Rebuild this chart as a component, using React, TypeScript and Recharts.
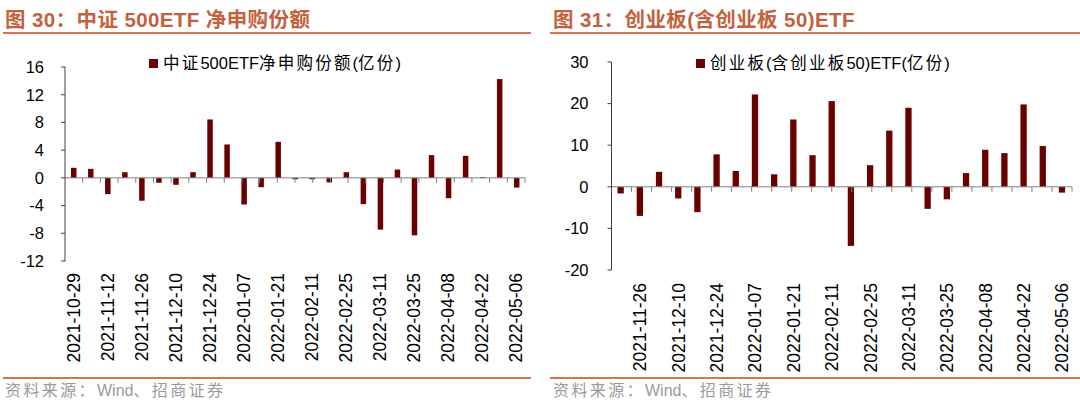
import React from "react";
import { BarChart, Bar, XAxis, YAxis, ReferenceLine, Legend } from "recharts";

const BAR_COLOR = "#6B0000";
const TITLE_COLOR = "#C4613D";
const RULE_COLOR = "#D27552";
const FONT = "'Liberation Sans', 'Noto Sans CJK SC', sans-serif";

// 图 30: 中证500ETF 净申购份额 (亿份), weekly
const csiDates = [
  "2021-10-29", "2021-11-05", "2021-11-12", "2021-11-19", "2021-11-26", "2021-12-03",
  "2021-12-10", "2021-12-17", "2021-12-24", "2021-12-31", "2022-01-07", "2022-01-14",
  "2022-01-21", "2022-01-28", "2022-02-11", "2022-02-18", "2022-02-25", "2022-03-04",
  "2022-03-11", "2022-03-18", "2022-03-25", "2022-04-01", "2022-04-08", "2022-04-15",
  "2022-04-22", "2022-04-29", "2022-05-06",
];
const csiValues = [
  1.45, 1.3, -2.35, 0.82, -3.3, -0.7, -1.0, 0.82, 8.43, 4.82, -3.85, -1.35, 5.2, -0.2,
  -0.2, -0.65, 0.82, -3.8, -7.47, 1.2, -8.3, 3.28, -2.94, 3.18, 0.1, 14.26, -1.4,
];
const csiLabels = [
  "2021-10-29", "2021-11-12", "2021-11-26", "2021-12-10", "2021-12-24", "2022-01-07",
  "2022-01-21", "2022-02-11", "2022-02-25", "2022-03-11", "2022-03-25", "2022-04-08",
  "2022-04-22", "2022-05-06",
];
const csiTicks = [-12, -8, -4, 0, 4, 8, 12, 16];

// 图 31: 创业板(含创业板50)ETF (亿份), weekly
const gemDates = [
  "2021-11-19", "2021-11-26", "2021-12-03", "2021-12-10", "2021-12-17", "2021-12-24",
  "2021-12-31", "2022-01-07", "2022-01-14", "2022-01-21", "2022-01-28", "2022-02-11",
  "2022-02-18", "2022-02-25", "2022-03-04", "2022-03-11", "2022-03-18", "2022-03-25",
  "2022-04-01", "2022-04-08", "2022-04-15", "2022-04-22", "2022-04-29", "2022-05-06",
];
const gemValues = [
  -1.6, -7.0, 3.6, -2.8, -6.1, 7.8, 3.8, 22.2, 3.0, 16.2, 7.6, 20.6, -14.2, 5.2, 13.5,
  19.0, -5.3, -3.0, 3.3, 8.9, 8.1, 19.8, 9.8, -1.4,
];
const gemLabels = [
  "2021-11-26", "2021-12-10", "2021-12-24", "2022-01-07", "2022-01-21", "2022-02-11",
  "2022-02-25", "2022-03-11", "2022-03-25", "2022-04-08", "2022-04-22", "2022-05-06",
];
const gemTicks = [-20, -10, 0, 10, 20, 30];

type PanelProps = {
  x: number;
  title: string;
  seriesName: string;
  dates: string[];
  values: number[];
  labels: string[];
  ticks: number[];
  margin: { top: number; right: number; bottom: number; left: number };
  yWidth: number;
  yTickMargin: number;
  xHeight: number;
  labelGap: number;
  barSize: number;
  stubLen: number;
  legendLeft: number;
  ruleLeft: number;
  ruleRight: number;
  titleLeft: number;
};

// CJK characters get a little extra spacing, latin runs stay tight
function Spaced({ text, spacing }: { text: string; spacing: number }) {
  const parts = text.split(/([A-Za-z0-9()]+)/).filter((s) => s.length > 0);
  return (
    <>
      {parts.map((s, i) => (
        <span key={i} style={{ letterSpacing: /^[A-Za-z0-9()]+$/.test(s) ? 0 : spacing }}>
          {s}
        </span>
      ))}
    </>
  );
}

function DateTick(props: any) {
  const { x, y, payload, labelSet, gap } = props;
  if (!labelSet.has(payload.value)) return <g />;
  const ty = y + gap;
  return (
    <text
      x={x}
      y={ty}
      transform={`rotate(-90 ${x} ${ty})`}
      textAnchor="end"
      dominantBaseline="central"
      fontSize={17.5}
      fontFamily={FONT}
      fill="#000"
    >
      {payload.value}
    </text>
  );
}

function LegendBox(props: any) {
  const item = props.payload && props.payload[0];
  if (!item) return null;
  return (
    <div style={{ display: "flex", alignItems: "center", whiteSpace: "nowrap" }}>
      <span style={{ width: 9, height: 9, background: item.color, marginRight: 5 }} />
      <span style={{ fontFamily: FONT, fontSize: 16.5, color: "#000", lineHeight: "20px" }}>
        <Spaced text={item.value} spacing={2.2} />
      </span>
    </div>
  );
}

function Panel(p: PanelProps) {
  const data = p.dates.map((d, i) => ({ date: d, value: p.values[i] }));
  const labelSet = new Set(p.labels);
  const n = p.dates.length;
  const stubs = Array.from({ length: n }, (_, i) => i + 1);
  const lo = p.ticks[0];
  const hi = p.ticks[p.ticks.length - 1];

  return (
    <div style={{ position: "absolute", left: p.x, top: 0, width: 540, height: 411 }}>
      <div
        style={{
          position: "absolute",
          left: p.titleLeft,
          top: 10,
          fontFamily: FONT,
          fontSize: 20.5,
          fontWeight: "bold",
          letterSpacing: 0.4,
          lineHeight: "20px",
          color: TITLE_COLOR,
          whiteSpace: "nowrap",
        }}
      >
        {p.title}
      </div>
      <div
        style={{
          position: "absolute",
          left: p.ruleLeft,
          width: p.ruleRight - p.ruleLeft,
          top: 32,
          height: 2,
          background: RULE_COLOR,
        }}
      />
      <div style={{ position: "absolute", left: 0, top: 0 }}>
        <BarChart width={540} height={411} data={data} margin={p.margin}>
          <XAxis
            xAxisId="cat"
            dataKey="date"
            type="category"
            interval={0}
            axisLine={false}
            tickLine={false}
            tickSize={0}
            tickMargin={0}
            height={p.xHeight}
            tick={(tp: any) => <DateTick {...tp} labelSet={labelSet} gap={p.labelGap} />}
          />
          <XAxis xAxisId="grid" type="number" domain={[0, n]} hide />
          <YAxis
            domain={[lo, hi]}
            ticks={p.ticks}
            interval={0}
            allowDataOverflow
            width={p.yWidth}
            tickSize={4}
            tickMargin={p.yTickMargin}
            axisLine={{ stroke: "#404040" }}
            tickLine={{ stroke: "#404040" }}
            tick={{ fontSize: 16.5, fill: "#000", fontFamily: FONT }}
          />
          <ReferenceLine xAxisId="cat" y={0} stroke="#808080" strokeWidth={1} />
          {stubs.map((s) => (
            <ReferenceLine
              key={s}
              xAxisId="grid"
              segment={[
                { x: s, y: 0 },
                { x: s, y: -p.stubLen },
              ]}
              stroke="#808080"
              strokeWidth={1}
            />
          ))}
          <Legend
            verticalAlign="middle"
            align="center"
            layout="horizontal"
            wrapperStyle={{ top: 53, left: p.legendLeft, width: "auto" }}
            content={(lp: any) => <LegendBox {...lp} />}
          />
          <Bar
            xAxisId="cat"
            dataKey="value"
            name={p.seriesName}
            fill={BAR_COLOR}
            barSize={p.barSize}
            isAnimationActive={false}
          />
        </BarChart>
      </div>
      <div
        style={{
          position: "absolute",
          left: p.ruleLeft,
          width: p.ruleRight - p.ruleLeft,
          top: 377,
          height: 2,
          background: RULE_COLOR,
        }}
      />
      <div
        style={{
          position: "absolute",
          left: p.titleLeft,
          top: 381,
          fontFamily: FONT,
          fontSize: 16,
          lineHeight: "20px",
          color: "#9A9A9A",
          whiteSpace: "nowrap",
        }}
      >
        <Spaced text="资料来源：Wind、招商证券" spacing={2.4} />
      </div>
    </div>
  );
}

export default function App() {
  return (
    <div
      style={{
        position: "fixed",
        left: 0,
        top: 0,
        width: 1080,
        height: 411,
        background: "#fff",
        overflow: "hidden",
      }}
    >
      <Panel
        x={0}
        title="图 30：中证 500ETF 净申购份额"
        seriesName="中证500ETF净申购份额(亿份)"
        dates={csiDates}
        values={csiValues}
        labels={csiLabels}
        ticks={csiTicks}
        margin={{ top: 67, right: 15, bottom: 20, left: 10 }}
        yWidth={55}
        yTickMargin={17}
        xHeight={130}
        labelGap={12}
        barSize={5.5}
        stubLen={0.72}
        legendLeft={149}
        ruleLeft={3}
        ruleRight={531}
        titleLeft={5}
      />
      <Panel
        x={540}
        title="图 31：创业板(含创业板 50)ETF"
        seriesName="创业板(含创业板50)ETF(亿份)"
        dates={gemDates}
        values={gemValues}
        labels={gemLabels}
        ticks={gemTicks}
        margin={{ top: 62, right: 8, bottom: 20, left: 11.5 }}
        yWidth={60}
        yTickMargin={19}
        xHeight={121}
        labelGap={13}
        barSize={6.3}
        stubLen={1.2}
        legendLeft={156}
        ruleLeft={10}
        ruleRight={540}
        titleLeft={13}
      />
    </div>
  );
}
